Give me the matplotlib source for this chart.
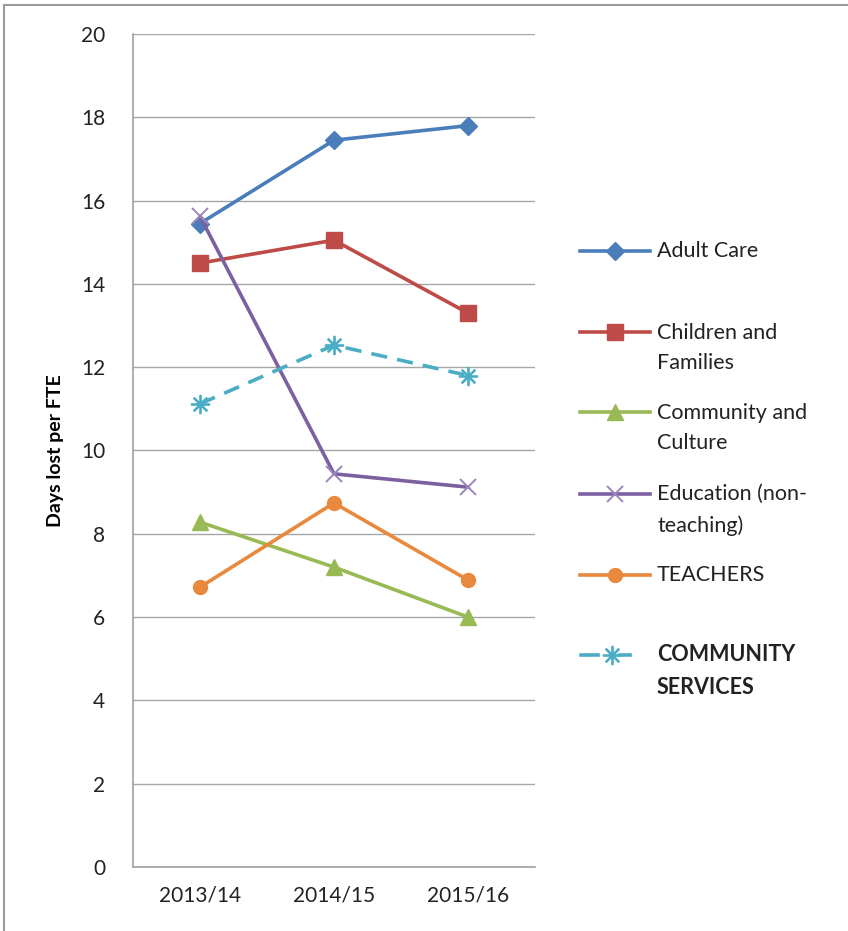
import matplotlib
matplotlib.use("Agg")
import matplotlib.pyplot as plt
from matplotlib.lines import Line2D
from matplotlib.patches import Rectangle

plt.rcParams['font.family'] = ['Lato', 'DejaVu Sans']

years = ["2013/14", "2014/15", "2015/16"]
adult_care = [15.45, 17.45, 17.8]
children_families = [14.5, 15.05, 13.3]
community_culture = [8.28, 7.2, 6.0]
education_nonteaching = [15.62, 9.44, 9.12]
teachers = [6.72, 8.74, 6.89]
community_services = [11.12, 12.53, 11.8]

series = [
    ("Adult Care", adult_care, "#4A7EBB", "D", 9, "-", "normal"),
    ("Children and\nFamilies", children_families, "#BE4B48", "s", 11, "-", "normal"),
    ("Community and\nCulture", community_culture, "#98B954", "^", 11, "-", "normal"),
    ("Education (non-\nteaching)", education_nonteaching, "#7D60A0", "x", 11, "-", "normal"),
    ("TEACHERS", teachers, "#E8893E", "o", 10, "-", "normal"),
    ("COMMUNITY\nSERVICES", community_services, "#4AACC5", "$\u2733$", 13, (0, (4.5, 2.8)), "bold"),
]

fig = plt.figure(figsize=(8.48, 9.31), dpi=100)
ax = fig.add_axes([133 / 848, 64 / 931, 402 / 848, 833 / 931])

x = range(len(years))
for label, vals, color, marker, ms, ls, _ in series:
    kw = dict(color=color, lw=2.6, linestyle=ls, marker=marker, markersize=ms,
              markerfacecolor=color, markeredgecolor=color, solid_capstyle="round")
    if marker == "x":
        kw.update(markeredgecolor="#9A86BA", markeredgewidth=1.4)
    ax.plot(list(x), vals, **kw)

ax.set_xlim(-0.5, 2.5)
ax.set_ylim(0, 20)
ax.set_yticks(range(0, 21, 2))
ax.set_xticks(list(x))
ax.set_xticklabels(years)
ax.grid(axis="y", color="#A6A6A6", lw=1.0)
ax.set_axisbelow(True)
for s in ("top", "right"):
    ax.spines[s].set_visible(False)
for s in ("left", "bottom"):
    ax.spines[s].set_color("#A0A0A0")
    ax.spines[s].set_linewidth(1.2)
ax.tick_params(length=0, labelsize=15, colors="#222222", pad=13)
ax.tick_params(axis="y", pad=20)
ax.set_ylabel("Days lost per FTE", fontsize=14, fontweight="bold", labelpad=12)

# legend drawn beside the plot
legend_rows = [251, 348, 428, 510, 575, 671]
for (label, vals, color, marker, ms, ls, weight), ypx in zip(series, legend_rows):
    yf = 1 - ypx / 931
    line_y = yf + (16 / 931 if "\n" in label else 0)
    kw = dict(color=color, lw=2.6, linestyle=ls, marker=marker, markersize=ms,
              markerfacecolor=color, markeredgecolor=color, markevery=[1],
              transform=fig.transFigure)
    if marker == "x":
        kw.update(markeredgecolor="#9A86BA", markeredgewidth=1.4)
    if ls != "-":
        fig.add_artist(Line2D([581 / 848, 598 / 848], [line_y, line_y], color=color, lw=2.6,
                              transform=fig.transFigure))
        fig.add_artist(Line2D([620 / 848, 630 / 848], [line_y, line_y], color=color, lw=2.6,
                              transform=fig.transFigure))
        fig.add_artist(Line2D([612 / 848], [line_y], color=color, marker=marker, markersize=ms,
                              linestyle="none", transform=fig.transFigure))
    else:
        fig.add_artist(Line2D([580 / 848, 615 / 848, 650 / 848], [line_y] * 3, **kw))
    fig.text(657 / 848, yf, label, fontsize=15.5, fontweight=weight, color="#222222",
             va="center", ha="left", linespacing=1.65)

fig.add_artist(Rectangle((4 / 848, -0.01), 1.0, 1 - 5 / 931 + 0.01, transform=fig.transFigure,
                         fill=False, edgecolor="#9A9A9A", lw=1.5))

fig.savefig("out.png", dpi=100)
